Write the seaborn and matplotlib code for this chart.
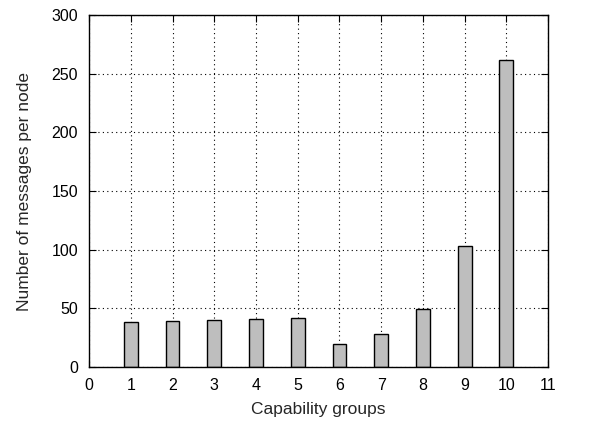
import matplotlib
matplotlib.use("Agg")
import matplotlib.pyplot as plt
import seaborn as sns
import pandas as pd

groups = [1, 2, 3, 4, 5, 6, 7, 8, 9, 10]
messages = [38.6, 39, 40, 41, 42, 19.3, 28, 49.7, 103, 261.4]

df = pd.DataFrame({"group": groups, "messages": messages})

sns.set_style("ticks")
plt.rcParams["font.family"] = ["Liberation Sans", "DejaVu Sans"]

fig = plt.figure(figsize=(5.9, 4.21), dpi=100)
ax = fig.add_axes([0.151, 0.128, 0.778, 0.836])

ax.grid(True, color="black", linestyle=(0, (1, 3)), linewidth=0.8)
ax.set_axisbelow(True)

sns.barplot(
    data=df,
    x="group",
    y="messages",
    native_scale=True,
    width=0.33,
    color="#bebebe",
    saturation=1,
    edgecolor="black",
    linewidth=1,
    ax=ax
)

ax.set_xlim(0, 11)
ax.set_ylim(0, 300)
ax.set_xticks(range(0, 12))
ax.set_yticks(range(0, 301, 50))

for s in ax.spines.values():
    s.set_visible(True)
    s.set_linewidth(1)
    s.set_color("black")

ax.tick_params(direction="in", top=True, right=True, length=5, width=0.8,
               labelsize=11.5, colors="black", pad=8)

ax.set_xlabel("Capability groups", fontsize=12.5, labelpad=6)
ax.set_ylabel("Number of messages per node", fontsize=12.5, labelpad=14)

plt.savefig("out.png", dpi=100)
plt.close()
